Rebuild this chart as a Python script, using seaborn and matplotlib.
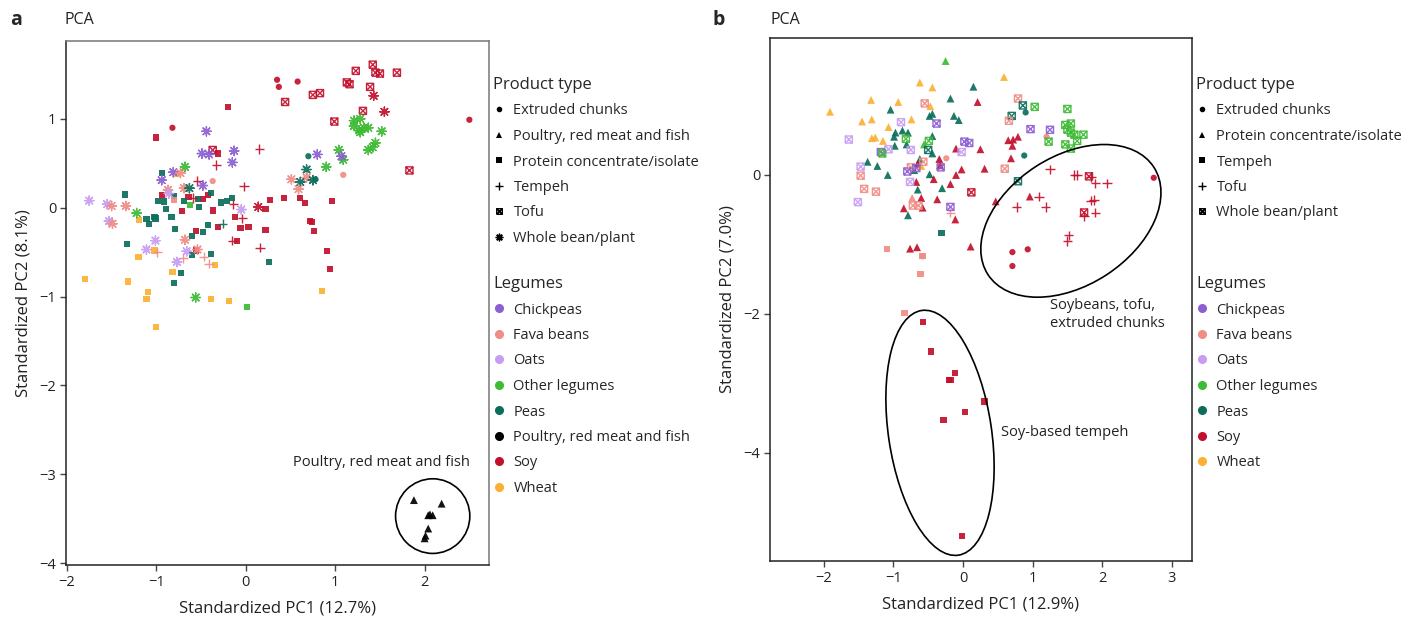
import numpy as np
import pandas as pd
import matplotlib
matplotlib.use("Agg")
import matplotlib.pyplot as plt
from matplotlib.lines import Line2D
from matplotlib.patches import Ellipse
from matplotlib.path import Path
import seaborn as sns

# Legume codes: CP chickpeas, FB fava beans, OA oats, OL other legumes,
# PE peas, PM poultry/red meat/fish, SO soy, WH wheat
# each point: (PC1, PC2, legume)

# ---- panel a ----
a_extruded = [(0.35, 1.44, "SO"), (0.37, 1.36, "SO"), (-0.82, 0.90, "SO"), (-0.37, 0.30, "FB"),
              (0.58, 1.42, "SO"), (2.50, 0.99, "SO"), (0.70, 0.58, "PE"), (0.78, 0.32, "PE"),
              (1.09, 0.37, "FB")]
a_meat = [(1.88, -3.29, "PM"), (2.19, -3.33, "PM"), (2.04, -3.46, "PM"), (2.06, -3.45, "PM"),
          (2.09, -3.46, "PM"), (2.04, -3.61, "PM"), (2.01, -3.69, "PM"), (2.00, -3.72, "PM")]
a_protein = [(-0.20, 1.13, "SO"), (-1.00, 0.79, "SO"), (-0.31, 0.61, "SO"), (-0.77, 0.38, "WH"),
             (-0.94, 0.39, "PE"), (-1.35, 0.15, "PE"), (-0.94, 0.14, "SO"), (-0.80, 0.13, "PE"),
             (-0.64, 0.12, "SO"), (-0.48, 0.10, "SO"), (-0.42, 0.14, "SO"), (-0.53, 0.10, "PE"),
             (-0.39, 0.17, "PE"), (-0.98, 0.08, "PE"), (-0.91, 0.07, "PE"), (-0.80, 0.09, "FB"),
             (-0.69, 0.08, "PE"), (-0.62, 0.03, "OL"), (-0.52, 0.01, "PE"), (-0.28, 0.06, "PE"),
             (-0.21, 0.08, "PE"), (-0.15, 0.11, "PE"), (0.22, -0.01, "SO"), (0.27, 0.09, "SO"),
             (-0.89, -0.01, "PE"), (-0.71, -0.04, "SO"), (-0.37, -0.03, "SO"), (-1.19, -0.14, "WH"),
             (-1.11, -0.13, "PE"), (-1.08, -0.18, "PE"), (-1.02, -0.10, "PE"), (-1.01, -0.12, "PE"),
             (-0.83, -0.10, "PE"), (-0.79, -0.24, "PE"), (-0.42, -0.19, "PE"), (-0.31, -0.22, "SO"),
             (-0.12, -0.10, "SO"), (-0.06, -0.23, "SO"), (0.03, -0.22, "SO"), (0.22, -0.25, "SO"),
             (-0.56, -0.26, "SO"), (-0.48, -0.27, "PE"), (-0.60, -0.32, "PE"), (-0.10, -0.37, "SO"),
             (-1.33, -0.41, "PE"), (-1.02, -0.48, "WH"), (-0.56, -0.48, "SO"), (-0.39, -0.52, "PE"),
             (-0.60, -0.53, "PE"), (-1.20, -0.55, "WH"), (-0.34, -0.64, "WH"), (0.26, -0.61, "PE"),
             (-1.80, -0.80, "WH"), (-1.32, -0.83, "WH"), (-0.82, -0.72, "WH"), (-0.72, -0.73, "PE"),
             (-0.80, -0.85, "PE"), (-1.09, -0.95, "WH"), (-1.11, -1.03, "WH"), (-0.39, -1.03, "WH"),
             (-0.19, -1.05, "WH"), (0.01, -1.12, "OL"), (-1.00, -1.34, "WH"), (0.43, 0.11, "SO"),
             (0.61, 0.11, "SO"), (0.66, 0.05, "SO"), (0.96, 0.08, "SO"), (0.72, -0.15, "SO"),
             (0.74, -0.16, "SO"), (0.76, -0.26, "SO"), (0.91, -0.49, "SO"), (0.94, -0.69, "SO"),
             (0.85, -0.94, "WH")]
a_tempeh = [(0.15, 0.66, "SO"), (-0.33, 0.48, "SO"), (-0.54, 0.30, "SO"), (-0.02, 0.24, "SO"),
            (-0.59, 0.11, "SO"), (-0.14, 0.04, "SO"), (-0.26, -0.18, "PE"), (-0.04, -0.12, "SO"),
            (-0.15, -0.37, "SO"), (-0.99, -0.50, "FB"), (0.16, -0.45, "SO"), (-0.70, -0.57, "FB"),
            (-0.47, -0.55, "FB"), (-0.41, -0.63, "FB")]
a_tofu = [(-0.37, 0.65, "SO"), (1.42, 1.61, "SO"), (1.23, 1.54, "SO"), (1.45, 1.52, "SO"),
          (1.50, 1.51, "SO"), (1.69, 1.52, "SO"), (1.13, 1.41, "SO"), (1.16, 1.39, "SO"),
          (1.39, 1.36, "SO"), (0.75, 1.27, "SO"), (0.83, 1.29, "SO"), (0.44, 1.19, "SO"),
          (1.31, 1.09, "SO"), (0.99, 0.97, "SO"), (1.83, 0.42, "SO")]
a_whole = [(-0.44, 0.86, "CP"), (-0.13, 0.64, "CP"), (-0.49, 0.61, "CP"), (-0.41, 0.60, "CP"),
           (-0.15, 0.51, "CP"), (-0.68, 0.46, "OL"), (-0.81, 0.40, "CP"), (-0.73, 0.39, "FB"),
           (-0.94, 0.31, "CP"), (-0.87, 0.20, "FB"), (-0.86, 0.16, "OA"), (-0.69, 0.22, "FB"),
           (-0.63, 0.22, "PE"), (-0.48, 0.25, "CP"), (0.14, 0.01, "SO"), (-0.05, -0.02, "OA"),
           (-1.75, 0.08, "OA"), (-1.55, 0.04, "OA"), (-1.50, 0.02, "FB"), (-1.34, 0.02, "FB"),
           (-1.22, -0.06, "OL"), (-1.53, -0.15, "OA"), (-1.49, -0.18, "FB"), (-1.01, -0.37, "OA"),
           (-0.68, -0.36, "FB"), (-1.11, -0.47, "OA"), (-0.54, -0.47, "FB"), (-0.66, -0.49, "OA"),
           (-0.77, -0.61, "OA"), (-0.56, -1.01, "OL"), (1.43, 1.26, "SO"), (1.55, 1.08, "SO"),
           (1.21, 0.98, "OL"), (1.28, 1.00, "OL"), (1.21, 0.92, "OL"), (1.27, 0.87, "OL"),
           (1.28, 0.85, "OL"), (1.32, 0.90, "OL"), (1.37, 0.90, "OL"), (1.52, 0.86, "OL"),
           (1.45, 0.73, "OL"), (1.42, 0.68, "OL"), (1.37, 0.65, "OL"), (1.04, 0.65, "OL"),
           (1.09, 0.54, "OL"), (0.90, 0.46, "OL"), (0.80, 0.60, "CP"), (1.07, 0.58, "CP"),
           (0.68, 0.43, "PE"), (0.51, 0.32, "FB"), (0.68, 0.34, "FB"), (0.61, 0.29, "PE"),
           (0.75, 0.31, "PE"), (0.59, 0.21, "FB")]

# ---- panel b ----
b_extruded = [(-0.24, 0.24, "FB"), (-0.58, -1.17, "FB"), (0.90, 0.90, "PE"), (1.20, 0.55, "FB"),
              (0.88, 0.28, "PE"), (2.74, -0.04, "SO"), (0.93, -1.07, "SO"), (0.71, -1.11, "SO"),
              (0.71, -1.31, "SO")]
b_protein = [(-0.25, 1.64, "OL"), (-0.62, 1.33, "WH"), (-0.44, 1.26, "WH"), (0.15, 1.27, "PE"),
             (-1.32, 1.08, "WH"), (-0.93, 1.05, "WH"), (-0.18, 1.10, "PE"), (0.21, 1.05, "SO"),
             (-0.47, 0.99, "WH"), (-1.91, 0.91, "WH"), (-1.04, 0.94, "PE"), (-0.48, 0.85, "PE"),
             (-0.44, 0.88, "PE"), (-0.13, 0.85, "PE"), (-0.06, 0.79, "PE"), (-1.45, 0.77, "WH"),
             (-1.31, 0.80, "WH"), (-0.74, 0.80, "WH"), (-1.07, 0.69, "WH"), (-0.97, 0.61, "PE"),
             (-0.87, 0.64, "PE"), (-0.79, 0.61, "PE"), (-0.99, 0.55, "PE"), (-1.31, 0.53, "WH"),
             (-1.26, 0.54, "WH"), (-0.44, 0.56, "PE"), (-1.15, 0.49, "WH"), (-0.81, 0.44, "PE"),
             (-0.98, 0.42, "PE"), (-0.56, 0.44, "OL"), (-0.10, 0.38, "SO"), (0.25, 0.37, "SO"),
             (-0.44, 0.31, "PE"), (-1.37, 0.19, "PE"), (-1.23, 0.13, "PE"), (-1.08, 0.00, "PE"),
             (-0.62, 0.23, "PE"), (-0.34, 0.23, "SO"), (-0.33, 0.14, "SO"), (-0.65, 0.16, "SO"),
             (-0.60, 0.13, "WH"), (-0.70, 0.07, "PE"), (-0.02, 0.08, "SO"), (-0.10, 0.00, "SO"),
             (0.31, 0.09, "SO"), (-0.48, 0.01, "PE"), (-0.42, -0.06, "SO"), (-0.67, -0.10, "SO"),
             (-0.65, -0.21, "PE"), (-0.30, -0.19, "PE"), (-0.18, -0.13, "SO"), (-0.73, -0.33, "FB"),
             (-0.60, -0.33, "SO"), (-0.37, -0.35, "SO"), (-0.58, -0.47, "SO"), (-0.85, -0.48, "SO"),
             (-0.79, -0.58, "PE"), (-0.11, -0.64, "SO"), (-0.76, -1.06, "SO"), (-0.66, -1.04, "SO"),
             (0.11, -1.03, "SO"), (0.59, 1.41, "WH"), (0.65, 0.50, "SO"), (0.72, 0.51, "SO"),
             (0.79, 0.55, "SO"), (0.71, 0.42, "SO"), (0.69, 0.24, "SO"), (0.47, -0.38, "SO"),
             (0.96, -0.31, "SO")]
b_tempeh = [(-0.31, -0.84, "PE"), (-1.09, -1.07, "FB"), (-0.58, -1.17, "FB"), (-0.61, -1.43, "FB"),
            (-0.84, -1.99, "FB"), (-0.57, -2.12, "SO"), (-0.46, -2.54, "SO"), (-0.11, -2.85, "SO"),
            (-0.20, -2.95, "SO"), (-0.18, -2.95, "SO"), (0.31, -3.26, "SO"), (0.03, -3.41, "SO"),
            (-0.28, -3.53, "SO"), (-0.01, -5.20, "SO")]
b_tofu = [(-0.18, -0.54, "FB"), (1.25, 0.08, "SO"), (1.60, 0.00, "SO"), (1.64, 0.00, "SO"),
          (1.84, -0.03, "SO"), (1.90, -0.12, "SO"), (2.07, -0.12, "SO"), (1.09, -0.31, "SO"),
          (0.77, -0.46, "SO"), (1.19, -0.46, "SO"), (1.84, -0.37, "SO"), (1.88, -0.36, "SO"),
          (1.74, -0.59, "SO"), (1.90, -0.54, "SO"), (1.52, -0.87, "SO"), (1.50, -0.95, "SO")]
b_whole = [(-0.55, 1.03, "FB"), (-0.89, 0.76, "OA"), (-0.38, 0.74, "CP"), (-1.64, 0.51, "OA"),
           (-0.82, 0.52, "OL"), (-0.49, 0.49, "OL"), (-0.50, 0.36, "PE"), (0.02, 0.48, "CP"),
           (0.09, 0.46, "CP"), (-0.02, 0.33, "OA"), (-1.07, 0.37, "OA"), (-0.75, 0.36, "OA"),
           (-1.18, 0.33, "CP"), (-1.16, 0.31, "OL"), (-1.47, 0.12, "OA"), (-1.47, -0.01, "FB"),
           (-0.57, 0.19, "FB"), (-0.32, 0.11, "CP"), (-0.75, 0.11, "FB"), (-0.80, 0.05, "CP"),
           (-0.67, 0.10, "CP"), (-0.76, -0.10, "OA"), (-1.42, -0.20, "FB"), (-1.25, -0.24, "FB"),
           (0.12, -0.25, "SO"), (-1.51, -0.39, "OA"), (-0.72, -0.44, "FB"), (-0.64, -0.44, "FB"),
           (-0.18, -0.46, "CP"), (0.79, 1.10, "FB"), (0.86, 1.00, "PE"), (1.03, 0.98, "OL"),
           (1.50, 0.95, "OL"), (0.70, 0.85, "PE"), (0.66, 0.78, "FB"), (0.97, 0.66, "CP"),
           (1.25, 0.65, "CP"), (1.47, 0.72, "OL"), (1.55, 0.74, "OL"), (1.50, 0.65, "OL"),
           (1.55, 0.61, "OL"), (1.60, 0.58, "OL"), (1.73, 0.58, "OL"), (1.64, 0.49, "OL"),
           (1.47, 0.44, "OL"), (1.55, 0.38, "OL"), (1.23, 0.48, "OL"), (0.60, 0.09, "FB"),
           (0.79, -0.09, "PE"), (1.81, -0.02, "SO"), (1.74, -0.54, "SO")]

legume_names = {"CP": "Chickpeas", "FB": "Fava beans", "OA": "Oats",
                "OL": "Other legumes", "PE": "Peas",
                "PM": "Poultry, red meat and fish", "SO": "Soy", "WH": "Wheat"}
legume_colors = {"Chickpeas": "#8C5FD3", "Fava beans": "#F08D86", "Oats": "#C79CF3",
                 "Other legumes": "#3DBB34", "Peas": "#0B6E5B",
                 "Poultry, red meat and fish": "#000000", "Soy": "#C2102C",
                 "Wheat": "#FBB033"}


def to_frame(groups):
    rows = []
    for product, pts in groups.items():
        for x, y, leg in pts:
            rows.append((x, y, product, legume_names[leg]))
    return pd.DataFrame(rows, columns=["pc1", "pc2", "product", "legume"])


df_a = to_frame({"Extruded chunks": a_extruded,
                 "Poultry, red meat and fish": a_meat,
                 "Protein concentrate/isolate": a_protein,
                 "Tempeh": a_tempeh, "Tofu": a_tofu,
                 "Whole bean/plant": a_whole})
df_b = to_frame({"Extruded chunks": b_extruded,
                 "Protein concentrate/isolate": b_protein,
                 "Tempeh": b_tempeh, "Tofu": b_tofu,
                 "Whole bean/plant": b_whole})

# square with a cross inside (R shape 7)
boxx = Path([(-1, -1), (1, -1), (1, 1), (-1, 1), (-1, -1), (-1, -1), (1, 1), (-1, 1), (1, -1)],
            [Path.MOVETO, Path.LINETO, Path.LINETO, Path.LINETO, Path.LINETO,
             Path.MOVETO, Path.LINETO, Path.MOVETO, Path.LINETO])
asterisk = (8, 2, 0)

# marker, size, open?
a_markers = {"Extruded chunks": ("o", 20, False),
             "Poultry, red meat and fish": ("^", 32, False),
             "Protein concentrate/isolate": ("s", 20, False),
             "Tempeh": ("+", 45, True),
             "Tofu": (boxx, 26, True),
             "Whole bean/plant": (asterisk, 45, True)}
b_markers = {"Extruded chunks": ("o", 20, False),
             "Protein concentrate/isolate": ("^", 32, False),
             "Tempeh": ("s", 20, False),
             "Tofu": ("+", 45, True),
             "Whole bean/plant": (boxx, 26, True)}

sns.set_theme(style="white")
plt.rcParams["font.family"] = ["Open Sans", "DejaVu Sans"]
plt.rcParams["axes.unicode_minus"] = True

fig = plt.figure(figsize=(14.13, 6.17), dpi=100)
ax_a = fig.add_axes([0.0467, 0.0843, 0.2994, 0.8492])
ax_b = fig.add_axes([0.5449, 0.0908, 0.2987, 0.8476])


def draw_points(ax, df, markers):
    for ptype, (mk, size, open_mk) in markers.items():
        sub = df[df["product"] == ptype]
        if sub.empty:
            continue
        sns.scatterplot(data=sub, x="pc1", y="pc2", hue="legume", palette=legume_colors,
                        marker=mk, s=size, linewidth=0, alpha=0.92,
                        legend=False, ax=ax)
        if open_mk:
            coll = ax.collections[-1]
            fc = coll.get_facecolors()
            coll.set_edgecolors(fc)
            coll.set_facecolors("none")
            coll.set_linewidths(1.0)


def style_axes(ax, xlim, ylim, xticks, yticks, edge):
    ax.set_xlim(*xlim)
    ax.set_ylim(*ylim)
    ax.set_xticks(xticks)
    ax.set_yticks(yticks)
    for side, sp in ax.spines.items():
        sp.set_visible(True)
        sp.set_linewidth(1.1)
        sp.set_color("#222222" if side in ("left", "bottom") else edge)
    ax.tick_params(axis="both", direction="out", length=4, width=1, color="#444444",
                   labelsize=10.5, labelcolor="#222222", bottom=True, left=True, pad=3)
    ax.set_xlabel("")
    ax.set_ylabel("")


draw_points(ax_a, df_a, a_markers)
draw_points(ax_b, df_b, b_markers)

style_axes(ax_a, (-2.01, 2.72), (-4.02, 1.876), [-2, -1, 0, 1, 2], [-4, -3, -2, -1, 0, 1], "#777777")
style_axes(ax_b, (-2.773, 3.29), (-5.554, 1.971), [-2, -1, 0, 1, 2, 3], [-4, -2, 0], "#222222")

ax_a.set_xlabel("Standardized PC1 (12.7%)", fontsize=12, color="#222222", labelpad=8)
ax_a.set_ylabel("Standardized PC2 (8.1%)", fontsize=12, color="#222222", labelpad=6)
ax_b.set_xlabel("Standardized PC1 (12.9%)", fontsize=12, color="#222222", labelpad=8)
ax_b.set_ylabel("Standardized PC2 (7.0%)", fontsize=12, color="#222222", labelpad=6)

# highlighted clusters
ax_a.add_patch(Ellipse((2.09, -3.47), 0.83, 0.84, fill=False, lw=1.2, color="black"))
ax_a.text(0.525, -2.87, "Poultry, red meat and fish", fontsize=10.5, va="center", color="#222222")
ax_b.add_patch(Ellipse((1.55, -0.66), 2.84, 1.86, angle=33, fill=False, lw=1.2, color="black"))
ax_b.add_patch(Ellipse((-0.33, -3.71), 3.56, 1.48, angle=98.5, fill=False, lw=1.2, color="black"))
ax_b.text(1.25, -2.01, "Soybeans, tofu,\nextruded chunks", fontsize=10.5, va="center",
          color="#222222", linespacing=1.3)
ax_b.text(0.55, -3.71, "Soy-based tempeh", fontsize=10.5, va="center", color="#222222")

# panel letters and titles
fig.text(10 / 1413, 1 - 20 / 617, "a", fontsize=14, fontweight="bold", va="center")
fig.text(65 / 1413, 1 - 20 / 617, "PCA", fontsize=11.5, va="center", color="#222222")
fig.text(713 / 1413, 1 - 20 / 617, "b", fontsize=14, fontweight="bold", va="center")
fig.text(771 / 1413, 1 - 20 / 617, "PCA", fontsize=11.5, va="center", color="#222222")


def add_legends(ax, markers, legumes, x_px):
    handles = []
    for name, (mk, size, open_mk) in markers.items():
        ms = 5.5 if mk in ("+", asterisk) else 4
        if mk == "^":
            ms = 4.5
        h = Line2D([], [], marker=mk, linestyle="none", color="black", markersize=ms,
                   markeredgewidth=1.0 if open_mk else 0,
                   fillstyle="none" if open_mk else "full")
        handles.append(h)
    common = dict(loc="upper left", bbox_transform=fig.transFigure, frameon=False,
                  borderaxespad=0, borderpad=0, alignment="left", fontsize=10.5,
                  title_fontsize=12, handlelength=0.8, handletextpad=0.6,
                  labelspacing=0.72)
    leg1 = ax.legend(handles, list(markers.keys()), title="Product type",
                     bbox_to_anchor=(x_px / 1413, 1 - 77 / 617), **common)
    ax.add_artist(leg1)
    lhandles = [Line2D([], [], marker="o", linestyle="none", color=legume_colors[l],
                       markersize=5.5) for l in legumes]
    ax.legend(lhandles, legumes, title="Legumes",
              bbox_to_anchor=(x_px / 1413, 1 - 276 / 617), **common)


add_legends(ax_a, a_markers, list(legume_colors.keys()), 493)
add_legends(ax_b, b_markers, [l for l in legume_colors if l != "Poultry, red meat and fish"], 1196)

fig.savefig("out.png", dpi=100)
